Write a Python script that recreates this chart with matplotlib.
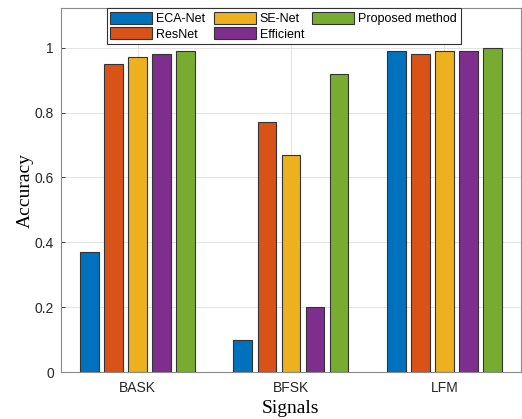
import matplotlib
matplotlib.use("Agg")
import matplotlib.pyplot as plt
import numpy as np

signals = ["BASK", "BFSK", "LFM"]
methods = ["ECA-Net", "ResNet", "SE-Net", "Efficient", "Proposed method"]
eca_net = [0.37, 0.10, 0.99]
resnet = [0.95, 0.77, 0.98]
se_net = [0.97, 0.67, 0.99]
efficient = [0.98, 0.20, 0.99]
proposed = [0.99, 0.92, 1.00]
y_ticks = [0, 0.2, 0.4, 0.6, 0.8, 1.0]
y_tick_labels = ["0", "0.2", "0.4", "0.6", "0.8", "1"]

series = [eca_net, resnet, se_net, efficient, proposed]
colors = ["#0072BD", "#D95319", "#EDB120", "#7E2F8E", "#77AC30"]

plt.rcParams["font.family"] = ["Liberation Sans", "DejaVu Sans"]

fig = plt.figure(figsize=(5.22, 4.19), dpi=100)
ax = fig.add_axes([0.1169, 0.1115, 0.998 - 0.1169, 0.981 - 0.1115])

x = np.arange(1, len(signals) + 1)
pitch = 0.157
width = 0.122
for i, (vals, name, c) in enumerate(zip(series, methods, colors)):
    ax.bar(x + (i - 2) * pitch, vals, width=width, color=c,
           edgecolor="#333333", linewidth=0.8, label=name, zorder=3)

ax.set_xlim(0.5, 3.5)
ax.set_ylim(0, 1.122)
ax.set_xticks(x)
ax.set_xticklabels(signals)
ax.set_yticks(y_ticks)
ax.set_yticklabels(y_tick_labels)
ax.tick_params(direction="in", length=3, width=0.6, colors="#262626",
               labelsize=10, pad=6)
ax.tick_params(axis="y", pad=5)
ax.grid(True, color="#e3e3e3", linewidth=0.7, zorder=0)
for s in ax.spines.values():
    s.set_color("#8a8a8a")
    s.set_linewidth(0.8)

ax.set_xlabel("Signals", family="Liberation Serif", fontsize=14, labelpad=4)
ax.set_ylabel("Accuracy", family="Liberation Serif", fontsize=14, labelpad=1)

leg = ax.legend(ncol=3, loc="upper left", bbox_to_anchor=(0.0993, 1.0),
                borderaxespad=0, fontsize=9, fancybox=False,
                edgecolor="#333333", framealpha=1, handlelength=3.36,
                handleheight=1.1, handletextpad=0.32, columnspacing=0.64,
                labelspacing=0.2, borderpad=0.3)
leg.get_frame().set_linewidth(0.8)

fig.savefig("out.png", dpi=100)
